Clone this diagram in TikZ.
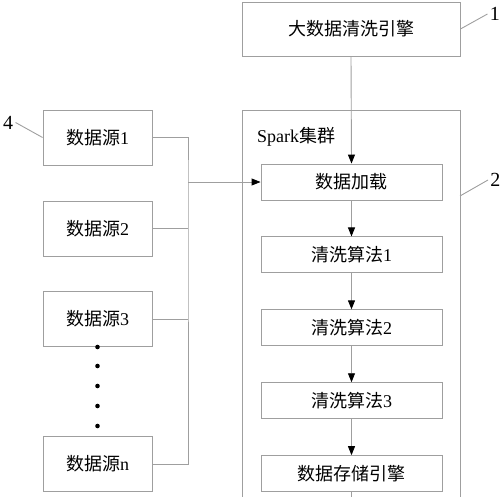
\documentclass[tikz,border=0pt]{standalone}
\usepackage{fontspec}
\setmainfont{Liberation Serif}
\newfontfamily\cjk{Noto Sans CJK SC}
\usetikzlibrary{positioning,arrows.meta}
\tikzset{
  line/.style={draw=gray!75, line width=0.9pt},
  arr/.style={line, -{Triangle[color=black,length=9pt,width=7pt]}},
  box/.style={line, minimum width=181pt, minimum height=36pt, inner sep=0pt, font=\fontsize{18}{20}\selectfont},
  srcbox/.style={box, minimum width=109pt, minimum height=55pt},
  tag/.style={font=\fontsize{20}{22}\selectfont, inner sep=2pt},
}
\begin{document}
\begin{tikzpicture}[x=1pt, y=-1pt]
  \useasboundingbox (0,0) rectangle (500,496);
  \clip (0,0) rectangle (500,496);
  % cleaning engine
  \node[box, minimum width=218pt, minimum height=54pt] (engine) at (351,29) {\cjk 大数据清洗引擎};
  \draw[line] (engine.east) -- ++(27,-15) node[tag, anchor=west] {1};
  % spark cluster
  \node[line, minimum width=218pt, minimum height=420pt, anchor=north west] (spark) at (242,110) {};
  \node[anchor=west, inner sep=0pt, font=\fontsize{18}{20}\selectfont] (sparktxt) at (257,137) {Spark{\cjk 集群}};
  \draw[line] (460,196) -- ++(28,-16) node[tag, anchor=west] {2};
  \node[box] (load) at (351.5,182) {\cjk 数据加载};
  \node[box, below=36pt of load] (clean1) {{\cjk 清洗算法}1};
  \node[box, below=36pt of clean1] (clean2) {{\cjk 清洗算法}2};
  \node[box, below=36pt of clean2] (clean3) {{\cjk 清洗算法}3};
  \node[box, below=36pt of clean3] (store) {\cjk 数据存储引擎};
  \draw[arr] (engine.south) -- (load.north);
  \draw[arr] (load) -- (clean1);
  \draw[arr] (clean1) -- (clean2);
  \draw[arr] (clean2) -- (clean3);
  \draw[arr] (clean3) -- (store);
  \coordinate (out) at (351.5,520);
  \draw[line] (store.south) -- (out);
  % data sources
  \node[srcbox] (s1) at (97.5,137.5) {{\cjk 数据源}1};
  \node[srcbox] (s2) at (97.5,228.5) {{\cjk 数据源}2};
  \node[srcbox] (s3) at (97.5,319) {{\cjk 数据源}3};
  \node[srcbox] (sn) at (97.5,464) {{\cjk 数据源}n};
  \draw[line] (s1.west) -- ++(-27,-15) node[tag, anchor=east] {4};
  \foreach \y in {347,366,386,406,426}
    \fill (97.5,\y) circle (2.3pt);
  \coordinate (bus) at (188,182);
  \draw[line] (s1.east) -| (bus) |- (sn.east);
  \draw[line] (s2.east) -- (s2.east -| bus);
  \draw[line] (s3.east) -- (s3.east -| bus);
  \draw[arr] (bus) -- (load.west);
\end{tikzpicture}
\end{document}
